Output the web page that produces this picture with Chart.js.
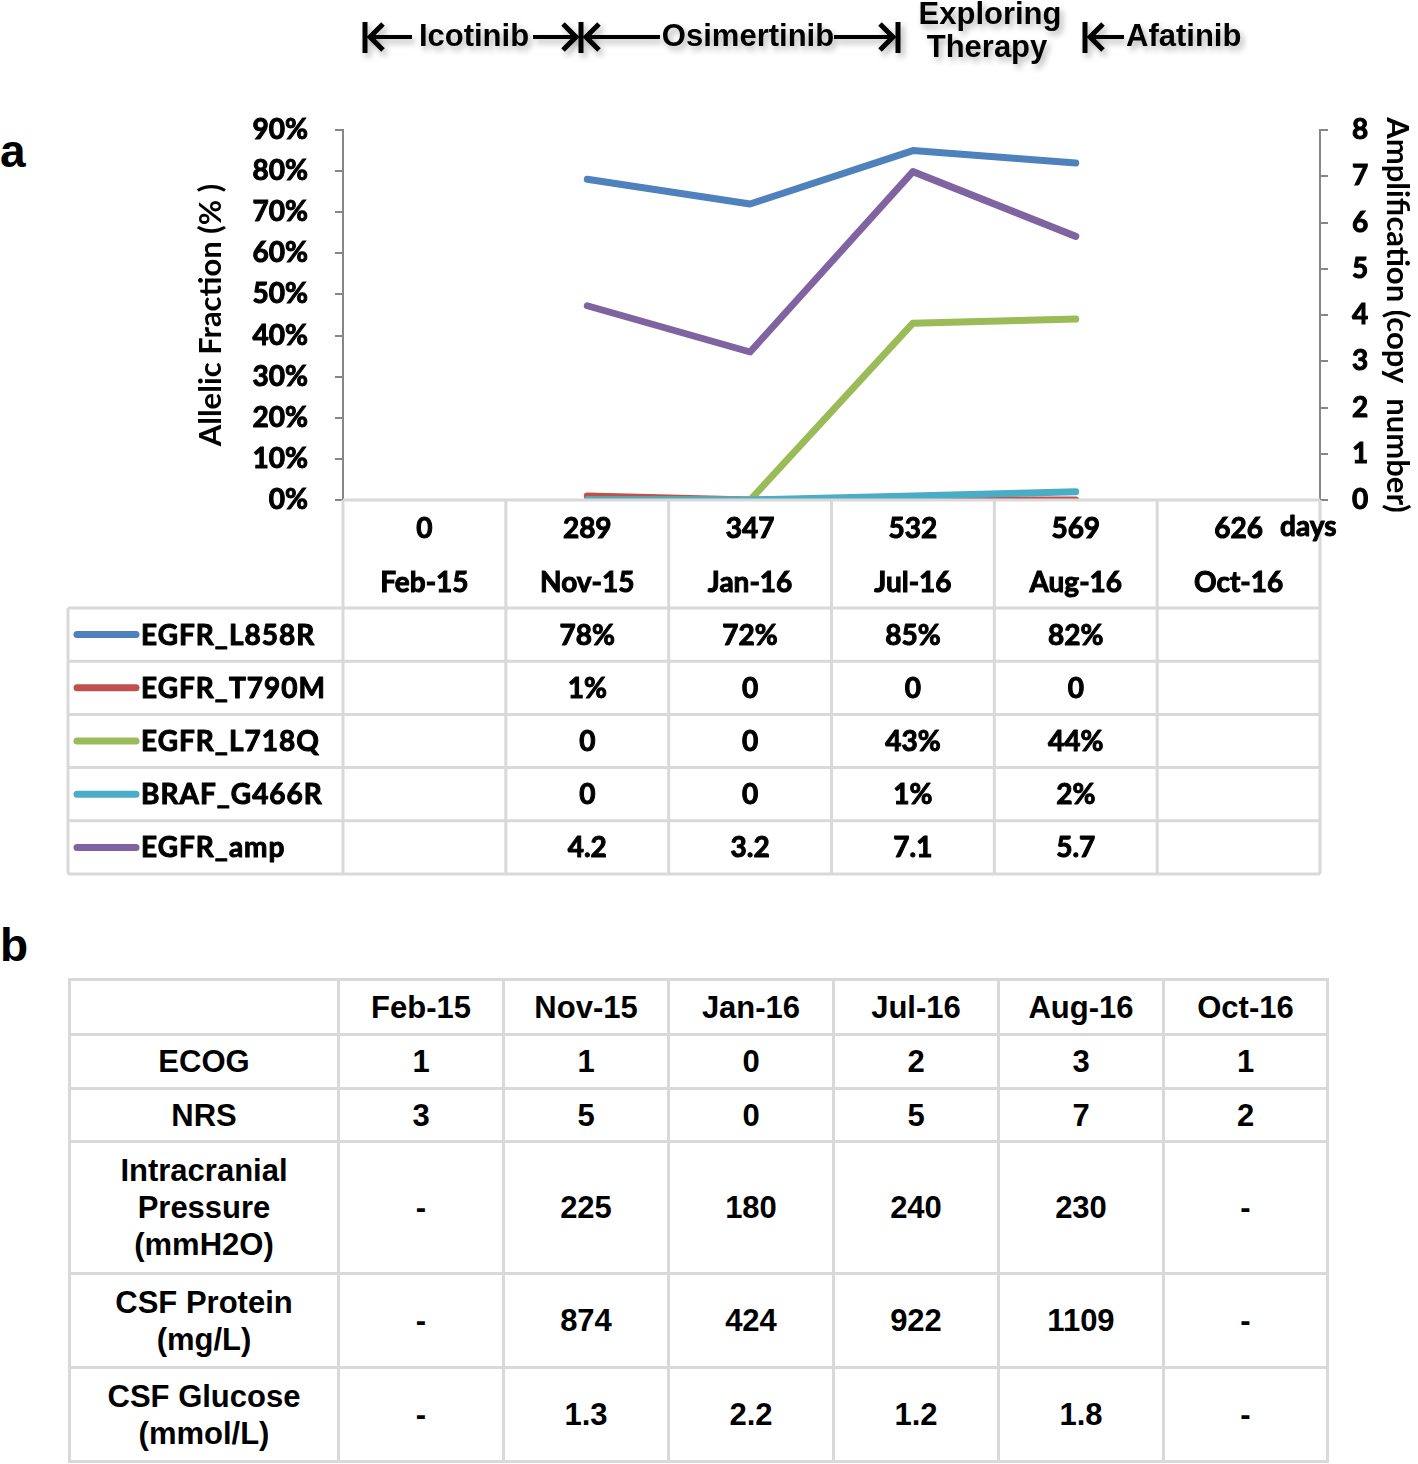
<!DOCTYPE html>
<html>
<head>
<meta charset="utf-8">
<script src="https://cdn.jsdelivr.net/npm/chart.js@4"></script>
<style>
  body { margin: 0; width: 1418px; height: 1464px; background: #fff; position: relative; overflow: hidden; }
  #wrap { position: absolute; left: 0; top: 0; width: 1418px; height: 890px; }
  .panel { position: absolute; font-family: "Liberation Sans", Arial, sans-serif; font-weight: bold; font-size: 46px; line-height: 1; }
  table.clin { position: absolute; left: 68px; top: 978px; border-collapse: collapse; table-layout: fixed;
    font-family: "Liberation Sans", Arial, sans-serif; font-weight: bold; font-size: 31px; color: #000; }
  table.clin td { border: 3px solid #d9d9d9; text-align: center; vertical-align: middle; padding: 0; line-height: 37px; }
</style>
</head>
<body>
<div class="panel" style="left:0px;top:128px;">a</div>
<div class="panel" style="left:0px;top:922px;">b</div>
<div id="wrap"><canvas id="chart" width="1418" height="890"></canvas></div>
<table class="clin" id="clin"></table>
<script>
// 時間軸
const dayLabels = ['0', '289', '347', '532', '569', '626'];
const dateLabels = ['Feb-15', 'Nov-15', 'Jan-16', 'Jul-16', 'Aug-16', 'Oct-16'];

// 突變等位基因頻率 (%)，擴增為拷貝數
const egfrL858R = [null, 78, 72, 85, 82, null];
const egfrT790M = [null, 1, 0, 0, 0, null];
const egfrL718Q = [null, 0, 0, 43, 44, null];
const brafG466R = [null, 0, 0, 1, 2, null];
const egfrAmp = [null, 4.2, 3.2, 7.1, 5.7, null];

const seriesNames = ['EGFR_L858R', 'EGFR_T790M', 'EGFR_L718Q', 'BRAF_G466R', 'EGFR_amp'];
const seriesData = [egfrL858R, egfrT790M, egfrL718Q, brafG466R, egfrAmp];
const seriesColors = ['#4f81bd', '#c0504d', '#9bbb59', '#4bacc6', '#8064a2'];

// 臨床指標 (b)
const clinDates = ['Feb-15', 'Nov-15', 'Jan-16', 'Jul-16', 'Aug-16', 'Oct-16'];
const ecog = [1, 1, 0, 2, 3, 1];
const nrs = [3, 5, 0, 5, 7, 2];
const icPressure = [null, 225, 180, 240, 230, null];
const csfProtein = [null, 874, 424, 922, 1109, null];
const csfGlucose = [null, 1.3, 2.2, 1.2, 1.8, null];

const FONT = 'Lato, "Noto Sans", sans-serif';
const NARROW = '"Liberation Sans", Arial, sans-serif';
const W = 'bold';

function line(ctx, x1, y1, x2, y2) {
    ctx.beginPath();
    ctx.moveTo(x1, y1);
    ctx.lineTo(x2, y2);
    ctx.stroke();
}

// 加粗文字（描邊）
function boldText(ctx, txt, x, y) {
    ctx.strokeText(txt, x, y);
    ctx.fillText(txt, x, y);
}

// 頂部治療時間箭頭
function drawTherapy(ctx) {
    const y = 37;
    ctx.save();
    ctx.shadowColor = 'rgba(0,0,0,0.3)';
    ctx.shadowBlur = 6;
    ctx.shadowOffsetX = 3;
    ctx.shadowOffsetY = 4;
    ctx.strokeStyle = '#000';
    ctx.fillStyle = '#000';
    ctx.lineCap = 'butt';
    const bar = x => { ctx.lineWidth = 5; line(ctx, x, 22, x, 53); };
    const left = (x1, x2) => {
        ctx.lineWidth = 4; line(ctx, x1 + 3, y, x2, y);
        ctx.lineWidth = 5;
        ctx.beginPath(); ctx.moveTo(x1 + 15, y - 13); ctx.lineTo(x1 + 2, y); ctx.lineTo(x1 + 15, y + 13); ctx.stroke();
    };
    const right = (x1, x2) => {
        ctx.lineWidth = 4; line(ctx, x1, y, x2 - 3, y);
        ctx.lineWidth = 5;
        ctx.beginPath(); ctx.moveTo(x2 - 15, y - 13); ctx.lineTo(x2 - 2, y); ctx.lineTo(x2 - 15, y + 13); ctx.stroke();
    };
    bar(365); left(368, 412);
    right(533, 578); bar(581); left(584, 660);
    right(834, 895); bar(898);
    bar(1085); left(1088, 1124);
    ctx.font = 'bold 31px ' + NARROW;
    ctx.textBaseline = 'middle';
    ctx.textAlign = 'center';
    ctx.fillText('Icotinib', 474, y);
    ctx.fillText('Osimertinib', 748, y);
    ctx.fillText('Exploring', 990, 15);
    ctx.fillText('Therapy', 987, 48);
    ctx.textAlign = 'left';
    ctx.fillText('Afatinib', 1126, y);
    ctx.restore();
}

// 圖表下方的數據表格
const dataTablePlugin = {
    id: 'dataTable',
    afterDraw(chart) {
        const ctx = chart.ctx;
        const xs = chart.scales.x;
        const area = chart.chartArea;
        const n = dayLabels.length;
        const step = xs.getPixelForValue(1) - xs.getPixelForValue(0);
        const edges = [];
        for (let i = 0; i <= n; i++) edges.push(xs.getPixelForValue(0) - step / 2 + i * step);
        const tableTop = 608, rowH = 53.2, tableLeft = 68;
        const tableBottom = tableTop + rowH * seriesNames.length;

        ctx.save();
        ctx.strokeStyle = '#d9d9d9';
        ctx.lineWidth = 3;
        line(ctx, area.left, area.bottom, area.right, area.bottom);
        edges.forEach(x => line(ctx, x, area.bottom, x, tableBottom));
        line(ctx, tableLeft, tableTop, tableLeft, tableBottom);
        for (let r = 0; r <= seriesNames.length; r++) {
            line(ctx, tableLeft, tableTop + r * rowH, edges[n], tableTop + r * rowH);
        }

        ctx.fillStyle = '#000';
        ctx.font = W + ' 28px ' + FONT;
        ctx.textBaseline = 'middle';
        ctx.lineJoin = 'round';
        ctx.textAlign = 'left';
        ctx.strokeStyle = '#000';
        ctx.lineWidth = 1;
        boldText(ctx, 'days', 1280, 527);

        seriesNames.forEach((name, r) => {
            const cy = tableTop + r * rowH + rowH / 2;
            ctx.strokeStyle = seriesColors[r];
            ctx.lineWidth = 7;
            ctx.lineCap = 'round';
            line(ctx, 77, cy, 136, cy);
            ctx.strokeStyle = '#000';
            ctx.lineWidth = 1;
            ctx.textAlign = 'left';
            ctx.letterSpacing = '1px';
            boldText(ctx, name, 141, cy + 1);
            ctx.letterSpacing = '0px';
            ctx.textAlign = 'center';
            seriesData[r].forEach((v, i) => {
                if (v === null) return;
                let txt;
                if (r === 4) txt = v.toFixed(1);
                else txt = v === 0 ? '0' : v + '%';
                boldText(ctx, txt, xs.getPixelForValue(i), cy + 1);
            });
        });
        ctx.restore();

        drawTherapy(ctx);
    }
};

const datasets = seriesNames.map((name, i) => ({
    label: name,
    data: seriesData[i],
    borderColor: seriesColors[i],
    backgroundColor: seriesColors[i],
    borderWidth: 7,
    borderCapStyle: 'round',
    borderJoinStyle: 'round',
    pointRadius: 0,
    tension: 0,
    yAxisID: i === 4 ? 'y1' : 'y',
    order: 5 - i
}));

Chart.defaults.font.family = FONT;
Chart.defaults.font.weight = W;
Chart.defaults.color = '#000';

const tickStroke = { textStrokeColor: '#000', textStrokeWidth: 1 };

new Chart(document.getElementById('chart'), {
    type: 'line',
    data: {
        labels: dayLabels.map((d, i) => [d, dateLabels[i]]),
        datasets: datasets
    },
    options: {
        responsive: false,
        animation: false,
        layout: { padding: { left: 190, top: 130, right: 0, bottom: 0 } },
        plugins: { legend: { display: false }, tooltip: { enabled: false } },
        scales: {
            x: {
                offset: true,
                grid: { display: false },
                border: { display: false },
                ticks: { ...tickStroke, font: { size: 28, weight: W, lineHeight: 54 / 28 }, padding: -6, maxRotation: 0, autoSkip: false },
                afterFit(s) { s.height = 390; }
            },
            y: {
                position: 'left',
                min: 0, max: 90,
                ticks: { ...tickStroke, stepSize: 10, font: { size: 28, weight: W }, padding: 27, callback: v => v + '%' },
                grid: { drawOnChartArea: false, drawTicks: true, tickLength: 8, color: '#868686', lineWidth: 2 },
                border: { color: '#868686', width: 2 },
                title: { display: true, text: 'Allelic Fraction (% )', font: { size: 31, weight: W }, padding: 2 },
                afterFit(s) { s.width = 343 - 190; }
            },
            y1: {
                position: 'right',
                min: 0, max: 8,
                ticks: { ...tickStroke, stepSize: 1, font: { size: 28, weight: W }, padding: 24 },
                grid: { drawOnChartArea: false, drawTicks: true, tickLength: 8, color: '#868686', lineWidth: 2 },
                border: { color: '#868686', width: 2 },
                title: { display: true, text: 'Amplification (copy  number)', font: { size: 31, weight: W }, padding: 2 },
                afterFit(s) { s.width = 1418 - 1320; }
            }
        }
    },
    plugins: [dataTablePlugin]
});

// 建立臨床表格
function buildClinTable() {
    const table = document.getElementById('clin');
    const colW = [269, 165, 165, 165, 165, 165, 164];
    const fmt = v => v === null ? '-' : String(v);
    const rows = [
        { label: '', vals: clinDates, h: 55 },
        { label: 'ECOG', vals: ecog.map(fmt), h: 54 },
        { label: 'NRS', vals: nrs.map(fmt), h: 53 },
        { label: 'Intracranial<br>Pressure<br>(mmH2O)', vals: icPressure.map(fmt), h: 132 },
        { label: 'CSF Protein<br>(mg/L)', vals: csfProtein.map(fmt), h: 94 },
        { label: 'CSF Glucose<br>(mmol/L)', vals: csfGlucose.map(v => v === null ? '-' : v.toFixed(1)), h: 94 }
    ];
    let html = '<colgroup>' + colW.map(w => `<col style="width:${w}px">`).join('') + '</colgroup>';
    rows.forEach(r => {
        html += `<tr style="height:${r.h}px"><td>${r.label}</td>`;
        r.vals.forEach(v => { html += `<td>${v}</td>`; });
        html += '</tr>';
    });
    table.innerHTML = html;
    table.style.width = colW.reduce((a, b) => a + b, 0) + 'px';
}
buildClinTable();
</script>
</body>
</html>
